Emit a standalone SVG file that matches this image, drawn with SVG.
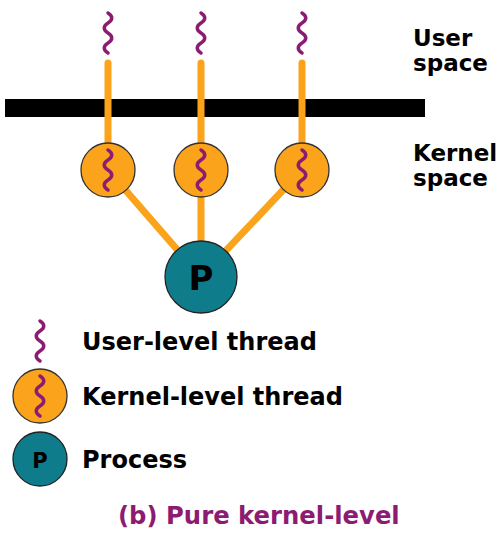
<svg xmlns="http://www.w3.org/2000/svg" xmlns:xlink="http://www.w3.org/1999/xlink" width="504" height="534" viewBox="0 0 504 534">
<style>
.sq{fill:none;stroke:#8C1C72;stroke-width:3.5;stroke-linecap:round}
.ln{stroke:#FBA31B;stroke-width:7;stroke-linecap:round;fill:none}
.kt{fill:#FBA31B;stroke:#333;stroke-width:1.3}
.pr{fill:#0E7C8B;stroke:#222;stroke-width:1.3}
.t{font-family:"DejaVu Sans",Verdana,sans-serif;font-weight:bold;fill:#000}
</style>
<defs>
<path id="squig" class="sq" d="M0,0 c5,3 5,7 0,10 s-5,7 0,10 s5,7 0,10 s-5,7 0,10"/>
</defs>
<rect x="5" y="99" width="420" height="18" fill="#000"/>
<g id="connectors">
<line class="ln" x1="108" y1="63" x2="108" y2="150"/>
<line class="ln" x1="201" y1="63" x2="201" y2="150"/>
<line class="ln" x1="302" y1="63" x2="302" y2="150"/>
<line class="ln" x1="108" y1="170" x2="201" y2="277"/>
<line class="ln" x1="201" y1="170" x2="201" y2="277"/>
<line class="ln" x1="302" y1="170" x2="201" y2="277"/>
</g>
<g id="u1"><use xlink:href="#squig" x="108" y="13"/></g>
<g id="u2"><use xlink:href="#squig" x="201" y="13"/></g>
<g id="u3"><use xlink:href="#squig" x="302" y="13"/></g>
<g id="k1"><circle class="kt" cx="108" cy="170" r="27"/><use xlink:href="#squig" x="108" y="150"/></g>
<g id="k2"><circle class="kt" cx="201" cy="170" r="27"/><use xlink:href="#squig" x="201" y="150"/></g>
<g id="k3"><circle class="kt" cx="302" cy="170" r="27"/><use xlink:href="#squig" x="302" y="150"/></g>
<g id="p"><circle class="pr" cx="201" cy="277" r="36"/><text class="t" x="201" y="290" font-size="34" text-anchor="middle">P</text></g>
<g id="labels">
<text class="t" x="413" y="46" font-size="23">User</text>
<text class="t" x="413" y="71" font-size="23">space</text>
<text class="t" x="413" y="161" font-size="23">Kernel</text>
<text class="t" x="413" y="186" font-size="23">space</text>
</g>
<g id="legend">
<use xlink:href="#squig" x="40" y="321"/>
<text class="t" x="82" y="350" font-size="24">User-level thread</text>
<circle class="kt" cx="40" cy="396" r="27"/><use xlink:href="#squig" x="40" y="376"/>
<text class="t" x="82" y="405" font-size="24">Kernel-level thread</text>
<circle class="pr" cx="40" cy="459" r="27"/><text class="t" x="40" y="468" font-size="21" text-anchor="middle">P</text>
<text class="t" x="82" y="468" font-size="24">Process</text>
<text class="t" x="118" y="524" font-size="24.3" style="fill:#8C1C72">(b) Pure kernel-level</text>
</g>
</svg>
